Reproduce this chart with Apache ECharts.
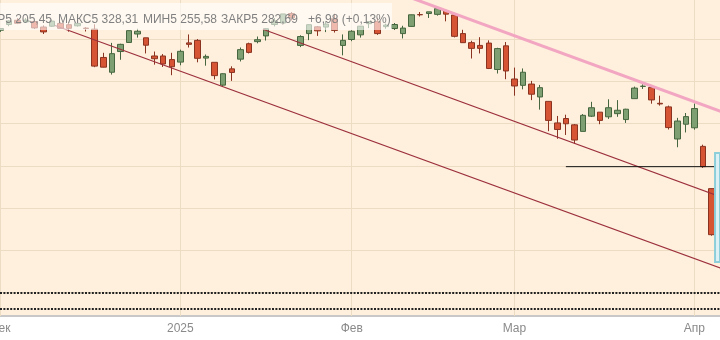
<!DOCTYPE html>
<html><head><meta charset="utf-8">
<script src="https://cdn.jsdelivr.net/npm/echarts@6/dist/echarts.min.js"></script>
<style>html,body{margin:0;padding:0;background:#fff}#c{width:720px;height:340px}</style>
</head><body><div id="c"></div>
<script>
// Trading days Dec 2, 2024 .. Apr 4, 2025 (index = position on the x axis)
const days = ['02.12','03.12','04.12','05.12','06.12','09.12','10.12','11.12','12.12','13.12','16.12','17.12','18.12','19.12','20.12','23.12','24.12','26.12','27.12','30.12','31.12',
'02.01','03.01','06.01','07.01','08.01','10.01','13.01','14.01','15.01','16.01','17.01','21.01','22.01','23.01','24.01','27.01','28.01','29.01','30.01','31.01',
'03.02','04.02','05.02','06.02','07.02','10.02','11.02','12.02','13.02','14.02','18.02','19.02','20.02','21.02','24.02','25.02','26.02','27.02','28.02',
'03.03','04.03','05.03','06.03','07.03','10.03','11.03','12.03','13.03','14.03','17.03','18.03','19.03','20.03','21.03','24.03','25.03','26.03','27.03','28.03','31.03',
'01.04','02.04','03.04','04.04'];
const open  = [6040,6042,6069,6089,6081,6083,6057,6061,6074,6068,6063,6052,6047,5913,5843,5941,5984,6024,6006,5920,5920,
5903,5891,5982,5994,5910,5890,5782,5859,5905,5978,5988,6015,6069,6076,6121,5970,6026,6058,6057,6096,
5970,5998,6020,6073,6084,6059,6050,6026,6060,6116,6121,6117,6134,6114,6026,5983,5970,5981,5856,
5968,5811,5781,5787,5726,5705,5603,5624,5594,5563,5635,5654,5632,5647,5619,5718,5776,5771,5696,5679,5527,
5597,5580,5492,5292];
const close = [6047,6050,6086,6075,6090,6053,6034,6085,6051,6051,6074,6050,5872,5867,5931,5975,6040,6037,5971,5907,5882,
5869,5942,5975,5909,5918,5827,5836,5842,5950,5937,5997,6049,6086,6119,6101,6012,6068,6039,6071,6041,
5994,6037,6061,6083,6026,6066,6069,6052,6115,6115,6129,6144,6118,6013,5983,5956,5956,5861,5955,
5849,5778,5843,5739,5770,5615,5572,5599,5522,5639,5675,5615,5675,5663,5668,5768,5777,5712,5693,5581,5612,
5633,5671,5396,5074];
const low   = [6035,6034,6061,6071,6079,6048,6024,6058,6050,6035,6059,6036,5867,5866,5832,5902,5982,6007,5932,5879,5868,
5829,5876,5960,5890,5874,5809,5773,5802,5894,5932,5980,5993,6060,6075,6088,5962,5995,6015,6033,6031,
5923,5990,6007,6052,6020,6049,6043,6003,6058,6107,6100,6111,6084,6008,5982,5908,5932,5858,5837,
5810,5732,5762,5711,5666,5564,5528,5546,5505,5563,5631,5597,5622,5632,5603,5718,5764,5694,5685,5572,5488,
5558,5571,5390,5069];
const high  = [6053,6050,6089,6099,6099,6088,6065,6092,6079,6078,6085,6057,6070,5935,5982,5978,6040,6049,6006,5941,5929,
5935,5950,6022,6000,5927,5890,5838,5871,5960,5983,6012,6051,6100,6119,6128,6018,6070,6062,6086,6120,
6022,6042,6062,6084,6101,6073,6076,6063,6116,6128,6129,6147,6134,6114,6044,5992,6009,5994,5959,
5986,5865,5861,5802,5783,5705,5636,5642,5598,5645,5703,5654,5715,5711,5670,5775,5786,5772,5732,5685,5627,
5650,5695,5500,5293];

const monthTickIdx = [1,22,42,61,82];
const monthLabels  = ['Дек','2025','Фев','Мар','Апр'];
const priceGrid    = [4800,5000,5200,5400,5600,5800,6000];
const dottedLevels = [4800,4722];
const levelLine    = [[67,5396],[87,5396]];
const pinkTrend    = [[45,6253.6],[87,5629.4]];
const channelUpper = [[31.64,6047],[87,5224]];
const channelLower = [[7.37,6064],[87,4887]];
const highlightBox = [[84.41,5460.6],[84.99,4944.9]];
const xRange = [0.945,84.99];
const yRange = [4689,6185];
const statsText = ['ОТКР5 205,45','МАКС5 328,31','МИН5 255,58','ЗАКР5 282,69','+6,98 (+0,13%)'];

const candles = days.map((d,i)=>[i, open[i], close[i], low[i], high[i]]);
const statsPos = [[52,'right'],[58,'left'],[143,'left'],[221,'left'],[308,'left']];

const chart = echarts.init(document.getElementById('c'), null, {renderer:'canvas'});
const font = 'Liberation Sans, Arial, sans-serif';
chart.setOption({
  animation:false,
  backgroundColor:'#ffffff',
  grid:{left:0,right:0,top:0,bottom:24,containLabel:false,outerBoundsMode:'none',show:true,backgroundColor:'#fef0dc',borderWidth:0},
  xAxis:{type:'value',min:xRange[0],max:xRange[1],
    axisLine:{onZero:false,lineStyle:{color:'#c8c8c8',width:2}},
    axisTick:{show:false},splitLine:{show:false},
    axisLabel:{customValues:monthTickIdx,showMinLabel:true,showMaxLabel:true,hideOverlap:false,
      formatter:v=>{const k=monthTickIdx.indexOf(Math.round(v));return k>=0?monthLabels[k]:'';},
      color:'#8a8a8a',fontSize:12,fontFamily:font,margin:7}},
  yAxis:{type:'value',min:yRange[0],max:yRange[1],show:false,splitLine:{show:false}},
  series:[
    {type:'candlestick',data:candles,encode:{x:0,y:[1,2,3,4]},barWidth:6,z:2,
      itemStyle:{color:'#7d9f72',color0:'#d65434',borderColor:'#46663f',borderColor0:'#8a3320',borderWidth:1},
      markLine:{silent:true,symbol:'none',z:1,label:{show:false},
        lineStyle:{color:'#ecdcc4',width:1,type:'solid'},
        data:[...priceGrid.map(v=>({yAxis:v})),...monthTickIdx.map(v=>({xAxis:v}))]},
      markArea:{silent:true,z:6,label:{show:false},
        itemStyle:{color:'#ddf1f5',borderColor:'#8ccfdb',borderWidth:2},
        data:[[{coord:highlightBox[0]},{coord:highlightBox[1]}]]}
    },
    {type:'line',data:pinkTrend,symbol:'none',z:3,lineStyle:{color:'#f2a6c2',width:3}},
    {type:'line',data:channelUpper,symbol:'none',z:3,lineStyle:{color:'#9c2f3c',width:1.1}},
    {type:'line',data:channelLower,symbol:'none',z:3,lineStyle:{color:'#9c2f3c',width:1.1}},
    {type:'line',data:levelLine,symbol:'none',z:4,lineStyle:{color:'#111',width:1},
      markLine:{silent:true,symbol:'none',z:5,label:{show:false},
        lineStyle:{color:'#222',width:2,type:[2,1.4]},
        data:dottedLevels.map(v=>({yAxis:v}))}}
  ],
  graphic:[
    {type:'rect',z:100,shape:{x:0,y:3,width:392,height:27},style:{fill:'rgba(255,255,255,0.6)'}},
    ...statsText.map((t,i)=>({type:'text',z:101,x:statsPos[i][0],y:19.5,
      style:{text:t,fill:'#808080',font:'12px '+font,textAlign:statsPos[i][1],textVerticalAlign:'middle'}}))
  ]
});
</script></body></html>
